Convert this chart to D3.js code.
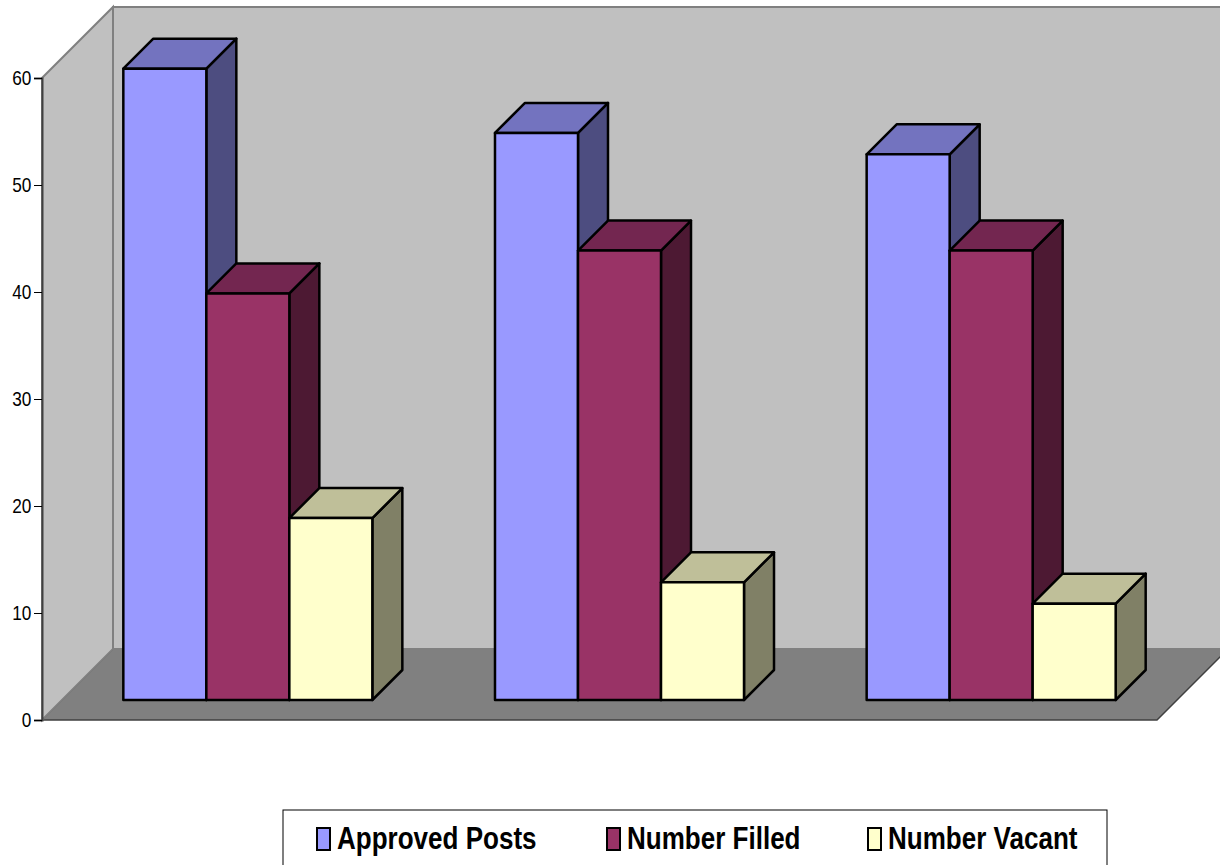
<!DOCTYPE html>
<html>
<head>
<meta charset="utf-8">
<script src="https://cdn.jsdelivr.net/npm/d3@7"></script>
<style>
body { margin: 0; background: #fff; }
text { font-family: "Liberation Sans", Arial, sans-serif; }
</style>
</head>
<body>
<svg id="chart" width="1220" height="865"></svg>
<script>
// data
var categories = ["Group 1", "Group 2", "Group 3"];
var seriesNames = ["Approved Posts", "Number Filled", "Number Vacant"];
var approvedPosts = [59, 53, 51];
var numberFilled = [38, 42, 42];
var numberVacant = [17, 11, 9];
var yTicks = [0, 10, 20, 30, 40, 50, 60];

var frontColors = ["#9999FF", "#993366", "#FFFFCC"];
var topColors = ["#7373BF", "#732650", "#BFBF99"];
var sideColors = ["#4D4D80", "#4D1933", "#808066"];

// layout
var plotLeft = 42, plotRight = 1157, plotBottom = 720, plotTop = 78;
var depth = 71;        // full floor depth (px, goes up-right at 45deg)
var barFront = 20;     // bars start this far back
var barDepth = 30;

var seriesData = [approvedPosts, numberFilled, numberVacant];

var svg = d3.select('#chart');

var y = d3.scaleLinear().domain([0, 60]).range([plotBottom, plotTop]);
var x0 = d3.scaleBand().domain(categories).range([plotLeft, plotRight]).paddingInner(0.33).paddingOuter(0.165);
var x1 = d3.scaleBand().domain(seriesNames).range([0, x0.bandwidth()]);

function P(px, py, z) { return [px + z, py - z]; }
function poly(pts) { return pts.map(p => p.join(',')).join(' '); }

// walls
var g = svg.append('g');
// floor
g.append('polygon')
    .attr('points', poly([P(plotLeft, plotBottom, 0), P(plotLeft, plotBottom, depth), P(plotRight, plotBottom, depth), P(plotRight, plotBottom, 0)]))
    .style('fill', '#808080').style('stroke', '#404040').style('stroke-width', 1.5);
// side wall
g.append('polygon')
    .attr('points', poly([P(plotLeft, plotBottom, 0), P(plotLeft, plotTop, 0), P(plotLeft, plotTop, depth), P(plotLeft, plotBottom, depth)]))
    .style('fill', '#C0C0C0').style('stroke', '#808080').style('stroke-width', 2);
// back wall
g.append('polygon')
    .attr('points', poly([P(plotLeft, plotBottom, depth), P(plotLeft, plotTop, depth), P(plotRight, plotTop, depth), P(plotRight, plotBottom, depth)]))
    .style('fill', '#C0C0C0').style('stroke', '#808080').style('stroke-width', 2);

// axis
var axis = d3.axisLeft(y).tickValues(yTicks).tickSize(8).tickPadding(5);
var ax = svg.append('g').attr('transform', 'translate(' + plotLeft + ',0)').call(axis);
ax.select('.domain').style('stroke', '#404040').style('stroke-width', 2);
ax.selectAll('.tick line').style('stroke', '#000').style('stroke-width', 1);
ax.selectAll('.tick text')
    .style('font-size', '21px').style('fill', '#000')
    .attr('transform', 'scale(0.82,1)');

// bars
var bars = [];
categories.forEach(function (c, ci) {
    seriesNames.forEach(function (s, si) {
        bars.push({ cat: c, series: s, si: si, value: seriesData[si][ci] });
    });
});

var bg = svg.append('g').selectAll('.bar').data(bars).enter().append('g').attr('class', 'bar');

function xa(d) { return x0(d.cat) + x1(d.series); }
function xb(d) { return xa(d) + x1.bandwidth(); }

bg.append('polygon')
    .attr('points', d => poly([P(xb(d), y(0), barFront), P(xb(d), y(d.value), barFront),
        P(xb(d), y(d.value), barFront + barDepth), P(xb(d), y(0), barFront + barDepth)]))
    .style('fill', d => sideColors[d.si]);
bg.append('polygon')
    .attr('points', d => poly([P(xa(d), y(d.value), barFront), P(xb(d), y(d.value), barFront),
        P(xb(d), y(d.value), barFront + barDepth), P(xa(d), y(d.value), barFront + barDepth)]))
    .style('fill', d => topColors[d.si]);
bg.append('polygon')
    .attr('points', d => poly([P(xa(d), y(0), barFront), P(xa(d), y(d.value), barFront),
        P(xb(d), y(d.value), barFront), P(xb(d), y(0), barFront)]))
    .style('fill', d => frontColors[d.si]);
bg.selectAll('polygon').style('stroke', '#000').style('stroke-width', 2.5).style('stroke-linejoin', 'round');

// legend
var legendBox = { x: 283, y: 810, w: 824, h: 70 };
var legendX = [317, 607, 868];
var lg = svg.append('g');
lg.append('rect').attr('x', legendBox.x).attr('y', legendBox.y).attr('width', legendBox.w).attr('height', legendBox.h)
    .style('fill', '#fff').style('stroke', '#000').style('stroke-width', 1);
var items = lg.selectAll('.item').data(seriesNames).enter().append('g')
    .attr('transform', (d, i) => 'translate(' + legendX[i] + ',0)');
items.append('rect').attr('x', 0).attr('y', 828).attr('width', 13).attr('height', 22)
    .style('fill', (d, i) => frontColors[i]).style('stroke', '#000').style('stroke-width', 2);
items.append('text').attr('transform', 'translate(20,849) scale(0.84,1)').text(d => d)
    .style('font-size', '31px').style('font-weight', 'bold').style('fill', '#000');
</script>
</body>
</html>
